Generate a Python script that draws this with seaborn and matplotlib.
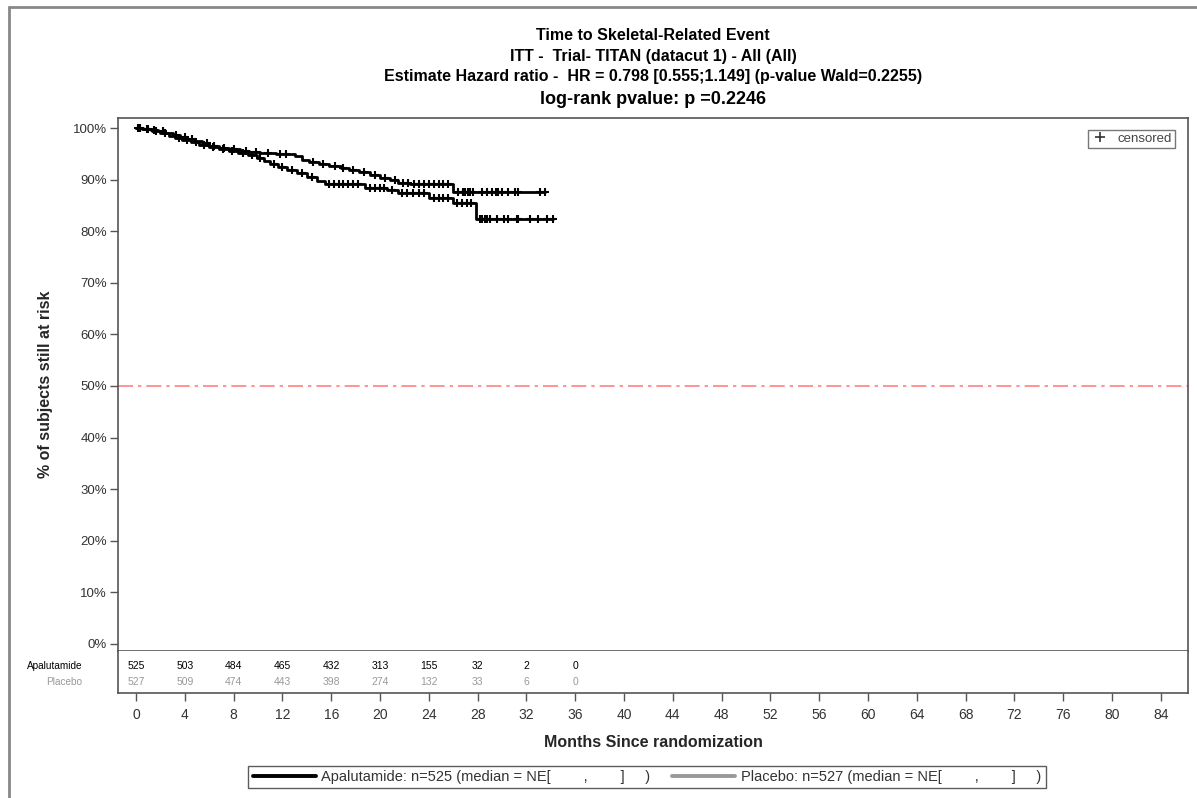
import numpy as np
import pandas as pd
import matplotlib
matplotlib.use("Agg")
import matplotlib.pyplot as plt
from matplotlib.lines import Line2D
import seaborn as sns

sns.set_theme(style="white")
plt.rcParams["font.family"] = ["Liberation Sans", "DejaVu Sans"]

# Kaplan-Meier step values (months, % event-free) for each arm
apa_times = [0.0, 0.5, 1.2, 1.8, 2.4, 3.0, 3.6, 4.2, 4.8, 5.4, 6.0, 6.8, 7.6, 8.5, 9.3,
             10.2, 11.5, 13.0, 13.6, 14.2, 15.0, 15.8, 16.8, 17.5, 18.3, 19.2, 20.0,
             20.8, 21.5, 22.5, 26.0]
apa_surv = [100.0, 99.8, 99.6, 99.4, 99.0, 98.6, 98.2, 97.8, 97.4, 97.0, 96.6, 96.2, 95.9,
            95.6, 95.3, 95.1, 94.9, 94.5, 93.8, 93.4, 93.0, 92.6, 92.2, 91.8, 91.4, 90.9,
            90.4, 89.9, 89.4, 89.1, 87.6]
apa_cens = [0.3, 0.9, 1.5, 2.2, 3.3, 4.0, 4.6, 5.8, 6.4, 7.2, 8.0, 9.0, 9.8, 10.8, 11.8,
            12.3, 14.5, 15.3, 16.3, 17.0, 17.8, 18.7, 19.6, 20.4, 21.2, 21.9, 22.3, 22.8,
            23.2, 23.6, 24.0, 24.4, 24.8, 25.2, 25.6, 26.4, 26.8, 27.0, 27.2, 27.4, 27.6,
            28.4, 28.8, 29.2, 29.5, 29.7, 30.0, 30.5, 31.1, 31.3, 33.1, 33.5]

pla_times = [0.0, 0.6, 1.3, 2.0, 2.7, 3.2, 3.8, 4.5, 5.2, 6.0, 6.8, 7.6, 8.4, 9.2, 9.9,
             10.5, 11.0, 11.6, 12.4, 13.2, 14.0, 14.8, 15.5, 18.8, 20.6, 21.5, 24.0,
             26.0, 27.9]
pla_surv = [100.0, 99.8, 99.5, 99.1, 98.5, 98.0, 97.6, 97.2, 96.8, 96.4, 96.0, 95.6, 95.2,
            94.7, 94.2, 93.6, 93.0, 92.4, 91.9, 91.3, 90.6, 89.8, 89.1, 88.4, 87.9, 87.4,
            86.4, 85.4, 82.3]
pla_cens = [0.2, 1.0, 1.6, 2.4, 3.5, 4.2, 4.9, 5.6, 6.3, 7.1, 7.9, 8.8, 9.5, 10.2, 11.3,
            12.0, 12.8, 13.6, 14.4, 15.8, 16.2, 16.6, 17.0, 17.4, 17.8, 18.2, 19.2, 19.6,
            20.0, 20.3, 21.0, 21.8, 22.2, 22.7, 23.2, 23.6, 24.4, 24.8, 25.2, 25.6, 26.3,
            26.7, 27.1, 27.5, 28.2, 28.4, 28.6, 28.8, 29.0, 29.6, 30.2, 30.5, 31.2, 31.3,
            32.3, 32.95, 33.7, 34.2]

# Number at risk table
risk_months = [0, 4, 8, 12, 16, 20, 24, 28, 32, 36]
apa_risk = [525, 503, 484, 465, 432, 313, 155, 32, 2, 0]
pla_risk = [527, 509, 474, 443, 398, 274, 132, 33, 6, 0]

x_ticks = list(range(0, 85, 4))
y_ticks = list(range(0, 101, 10))

title_lines = [
    "Time to Skeletal-Related Event",
    "ITT -  Trial- TITAN (datacut 1) - All (All)",
    "Estimate Hazard ratio -  HR = 0.798 [0.555;1.149] (p-value Wald=0.2255)",
    "log-rank pvalue: p =0.2246",
]
legend_labels = [
    "Apalutamide: n=525 (median = NE[        ,        ]     )",
    "Placebo: n=527 (median = NE[        ,        ]     )",
]


def step_frame(times, surv, cens):
    t = list(times) + [max(cens)]
    s = list(surv) + [surv[-1]]
    return pd.DataFrame({"month": t, "pct": s})


def censor_frame(times, surv, cens):
    idx = np.searchsorted(times, cens, side="right") - 1
    return pd.DataFrame({"month": cens, "pct": np.asarray(surv)[idx]})


W, H = 1197, 798
fig = plt.figure(figsize=(W / 100, H / 100), dpi=100)
fig.patch.set_facecolor("white")

XL = (-1.475, 86.23)
ax = fig.add_axes([118 / W, 1 - 651 / H, (1188 - 118) / W, (651 - 118) / H])
axr = fig.add_axes([118 / W, 1 - 693 / H, (1188 - 118) / W, (693 - 651) / H])

spine_c = "#555555"
for a in (ax, axr):
    for sp in a.spines.values():
        sp.set_color(spine_c)
        sp.set_linewidth(1.2)
axr.spines["top"].set_visible(False)

# Survival curves
for times, surv, cens in ((apa_times, apa_surv, apa_cens), (pla_times, pla_surv, pla_cens)):
    sns.lineplot(data=step_frame(times, surv, cens), x="month", y="pct",
                 drawstyle="steps-post", estimator=None, sort=False,
                 color="black", linewidth=2.0, ax=ax)
    sns.scatterplot(data=censor_frame(times, surv, cens), x="month", y="pct",
                    marker="+", s=40, color="black", linewidth=1.5, ax=ax, zorder=3)

ax.axhline(50, color="#ff8080", linestyle=(0, (9, 3, 2, 3)), linewidth=1.2)

ax.set_xlim(*XL)
ax.set_ylim(-1.36, 101.94)
ax.set_yticks(y_ticks)
ax.set_yticklabels([f"{v}%" for v in y_ticks])
ax.set_xticks([])
ax.set_xlabel("")
ax.set_ylabel("% of subjects still at risk", fontsize=11.5, fontweight="bold", labelpad=14)
ax.tick_params(axis="y", direction="out", length=6, width=1, color=spine_c,
               labelcolor="#333333", labelsize=9.5, pad=2, left=True)

# Censored legend
cens_handle = Line2D([], [], marker="+", color="#333333", linestyle="none", markersize=7,
                     markeredgewidth=1.2)
lg = ax.legend([cens_handle], ["censored"], loc="upper right",
               bbox_to_anchor=(1 - 13 / 1070, 1 - 12 / 533),
               frameon=True, fancybox=False, fontsize=9.5, handlelength=1.4,
               handletextpad=0.7, borderpad=0.2, borderaxespad=0)
lg.get_frame().set_edgecolor("#555555")
lg.get_frame().set_linewidth(1.0)
for t in lg.get_texts():
    t.set_color("#444444")

# Number at risk
axr.set_xlim(*XL)
axr.set_ylim(0, 1)
axr.set_yticks([])
axr.set_xticks(x_ticks)
axr.set_xticklabels([str(v) for v in x_ticks])
axr.tick_params(axis="x", direction="out", length=6, width=1, color=spine_c,
                labelcolor="#333333", labelsize=10, pad=5, bottom=True)
for m, a_n, p_n in zip(risk_months, apa_risk, pla_risk):
    axr.text(m, 0.643, str(a_n), ha="center", va="center", fontsize=7.5, color="black")
    axr.text(m, 0.262, str(p_n), ha="center", va="center", fontsize=7.5, color="#999999")
fig.text(82 / W, 1 - 666 / H, "Apalutamide", ha="right", va="center", fontsize=7.2, color="black")
fig.text(82 / W, 1 - 682 / H, "Placebo", ha="right", va="center", fontsize=7.2, color="#999999")
axr.set_xlabel("Months Since randomization", fontsize=11.5, fontweight="bold", labelpad=9)

# Titles
cx = (118 + 1188) / 2 / W
title_y = [35, 56, 77, 100]
title_fs = [11.5, 11.5, 11.5, 13]
for txt, yy, fs in zip(title_lines, title_y, title_fs):
    fig.text(cx, 1 - yy / H, txt, ha="center", va="center", fontsize=fs,
             fontweight="bold", color="black")

# Treatment legend
handles = [Line2D([], [], color="black", linewidth=2.8),
           Line2D([], [], color="#999999", linewidth=2.8)]
blg = fig.legend(handles, legend_labels, loc="center", bbox_to_anchor=(647 / W, 1 - 777 / H),
                 ncol=2, frameon=True, fancybox=False, fontsize=10.5, handlelength=4.3,
                 handletextpad=0.4, columnspacing=1.5, borderpad=0.3)
blg.get_frame().set_edgecolor("#333333")
blg.get_frame().set_linewidth(1.0)
for t in blg.get_texts():
    t.set_color("#333333")

# Page frame
fig.add_artist(Line2D([9 / W, 9 / W], [0, 1 - 7 / H], transform=fig.transFigure,
                      color="#888888", linewidth=2))
fig.add_artist(Line2D([9 / W, 1], [1 - 7 / H, 1 - 7 / H], transform=fig.transFigure,
                      color="#888888", linewidth=2))

fig.savefig("out.png", dpi=100, facecolor="white")
